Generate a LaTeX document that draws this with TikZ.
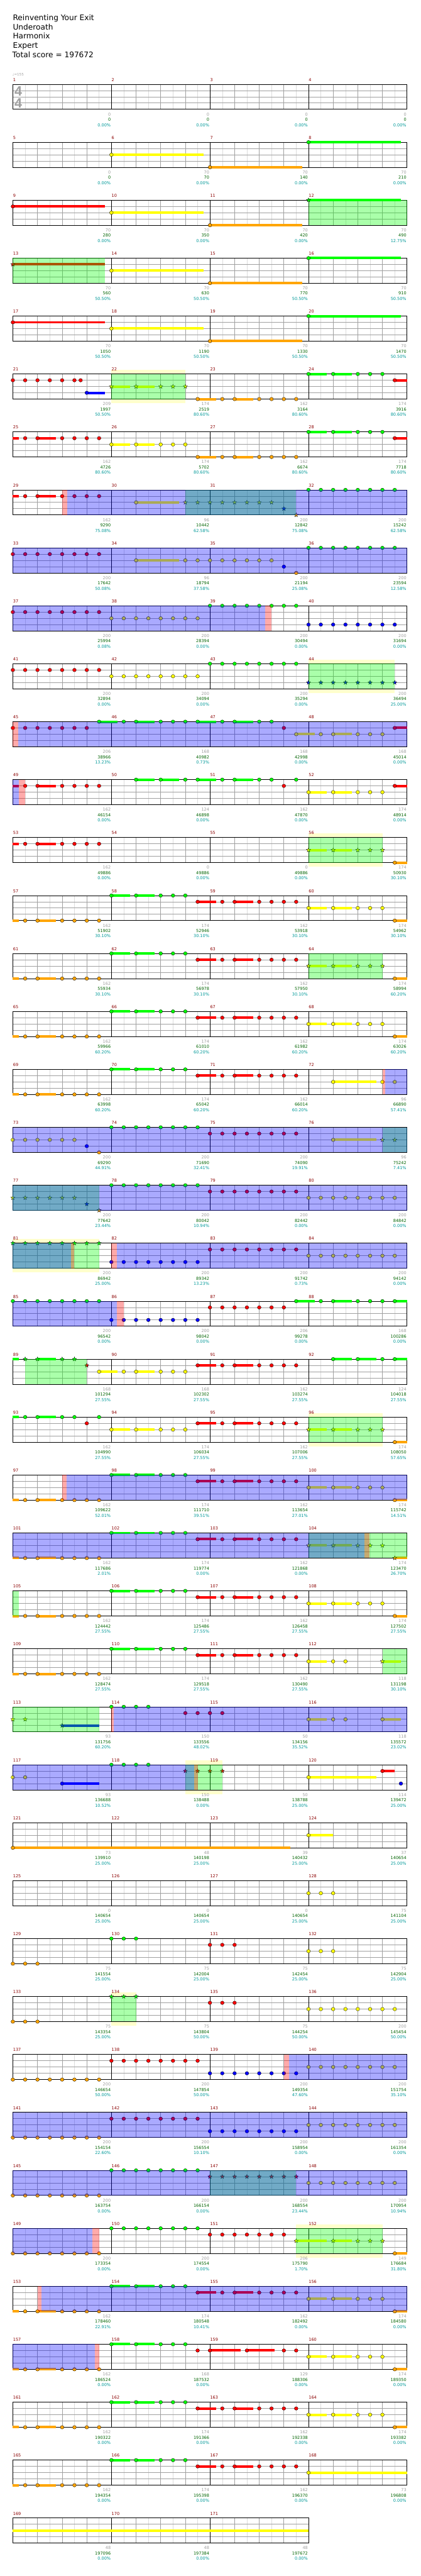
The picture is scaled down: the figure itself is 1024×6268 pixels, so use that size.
\documentclass[tikz,border=0pt]{standalone}
\usepackage{fontspec}
\setmainfont{DejaVu Sans}
\newfontfamily\sigfont{Liberation Sans}
\usepackage{tikz}
\definecolor{lane0}{HTML}{00FF00}
\definecolor{lane1}{HTML}{FF0000}
\definecolor{lane2}{HTML}{FFFF00}
\definecolor{lane3}{HTML}{0000FF}
\definecolor{lane4}{HTML}{FFA500}
\definecolor{barred}{HTML}{8B0000}
\definecolor{gaingray}{HTML}{A0A0A0}
\definecolor{totalgreen}{HTML}{006400}
\definecolor{pctteal}{HTML}{009999}
\definecolor{gridlight}{HTML}{DCDCDC}
\definecolor{gridmid}{HTML}{A0A0A0}
\definecolor{solofill}{HTML}{FFFFCC}
\newcommand\smallfont{\fontsize{10}{12}\selectfont}
\newcommand\titlefont{\fontsize{18.6}{23}\selectfont}
\tikzset{
  chartrow/.style={shift={(31.3pt,{-205pt-141pt*(#1-1)})},x=30pt,y=-15.25pt},
  eighthline/.style={gridlight,line width=0.7pt},
  beatline/.style={gridmid,line width=0.8pt},
  stringline/.style={gridmid,line width=1.2pt},
  barline/.style={black,line width=0.8pt},
  frameline/.style={black,line width=1.3pt},
  barnum/.style={font=\smallfont,text=barred,anchor=base west,inner sep=0pt,yshift=7.4pt,xshift=0.5pt},
  gain/.style={font=\smallfont,text=gaingray,anchor=base east,inner sep=0pt,xshift=-1.5pt,yshift=-15.6pt},
  total/.style={font=\smallfont,text=totalgreen,anchor=base east,inner sep=0pt,xshift=-1.5pt,yshift=-28.6pt},
  pct/.style={font=\smallfont,text=pctteal,anchor=base east,inner sep=0pt,xshift=-1.5pt,yshift=-41.6pt},
  titleline/.style={font=\titlefont,anchor=base west,inner sep=0pt},
  notehead/.style={draw=black,line width=0.5pt},
  overdrive/.style={fill=blue,fill opacity=0.333},
  starpower/.style={fill=green,fill opacity=0.333},
  activation/.style={fill=red,fill opacity=0.333},
}
% chart rows: grid, notes, overlays, scores
\newcommand\chart[2]{%
  \fill[white] (0,0) rectangle (8*#2,4);
  \foreach \k in {1,...,31}{\ifnum\k<\numexpr8*#2\relax
    \ifodd\k\relax \draw[eighthline] (\k,0) -- (\k,4);
    \else \draw[beatline] (\k,0) -- (\k,4); \fi\fi}
  \foreach \y in {1,2,3} \draw[stringline] (0,\y) -- (8*#2,\y);
  \foreach \i in {1,...,4}{\ifnum\i>#2\relax\else
    \pgfmathtruncatemacro\mnum{#1+\i-1}
    \draw[barline] (8*\i-8,0) -- (8*\i-8,4);
    \node[barnum] (bar-\mnum) at (8*\i-8,0) {\mnum};
  \fi}
  \draw[frameline] (0,0) rectangle (8*#2,4);
}
\newcommand\scores[2]{%
  \foreach \g/\s/\p [count=\i] in {#2}{
    \pgfmathtruncatemacro\mnum{#1+\i-1}
    \node[gain] (gain-\mnum) at (8*\i,4) {\g};
    \node[total] (total-\mnum) at (8*\i,4) {\s};
    \node[pct] (pct-\mnum) at (8*\i,4) {\p\%};
  }}
\newcommand\gemnote[2]{\filldraw[notehead,fill=lane#2] (#1,#2) ellipse [x radius=4.5pt,y radius=4.3pt];}
\newcommand\gemnotes[2]{\foreach \e in {#2}{\gemnote{\e}{#1}}}
\newcommand\gemstar[2]{\filldraw[notehead,fill=lane#2] (#1,#2) +(90:5.4pt) -- +(126:2.2pt) -- +(162:5.4pt) -- +(198:2.2pt) -- +(234:5.4pt) -- +(270:2.2pt) -- +(306:5.4pt) -- +(342:2.2pt) -- +(18:5.4pt) -- +(54:2.2pt) -- cycle;}
\newcommand\gemstars[2]{\foreach \e in {#2}{\gemstar{\e}{#1}}}
\newcommand\tail[3]{\fill[lane#3] (#1,#3-0.2) rectangle (#2,#3+0.2);}
\newcommand\hold[3]{\tail{#1}{#2}{#3}\gemnote{#1}{#3}}
\newcommand\holdstar[3]{\tail{#1}{#2}{#3}\gemstar{#1}{#3}}
\newcommand\patA[2]{\tail{#1}{#1+0.5}{#2}\tail{#1+2}{#1+3.5}{#2}\foreach \q in {1,2,4,5,6,7}{\gemnote{#1+\q}{#2}}}
\newcommand\patB[2]{\hold{#1}{#1+1.5}{#2}\hold{#1+2}{#1+3.5}{#2}\foreach \q in {4,5,6}{\gemnote{#1+\q}{#2}}}
\newcommand\patBs[2]{\holdstar{#1}{#1+1.5}{#2}\holdstar{#1+2}{#1+3.5}{#2}\foreach \q in {4,5,6}{\gemstar{#1+\q}{#2}}}
\newcommand\solo[2]{\fill[solofill] (#1,-0.66) rectangle (#2,4.66);}
\newcommand\odrive[2]{\fill[overdrive] (#1,0) rectangle (#2,4);}
\newcommand\spow[2]{\fill[starpower] (#1,0) rectangle (#2,4);}
\newcommand\pinkband[2]{\fill[activation] (#1,0) rectangle (#2,4);}
\begin{document}
\begin{tikzpicture}
  \useasboundingbox (0,0) rectangle (1024pt,-6268pt);
  \fill[white] (0,0) rectangle (1024pt,-6268pt);
  \node[titleline] (title) at (31.3pt,-49.5pt) {Reinventing Your Exit};
  \node[titleline] (artist) at (31.3pt,-72pt) {Underoath};
  \node[titleline] (charter) at (31.3pt,-94.5pt) {Harmonix};
  \node[titleline] (level) at (31.3pt,-117pt) {Expert};
  \node[titleline] (score) at (30pt,-140pt) {Total score = 197672};
  % row 1: bars 1-4
  \begin{scope}[chartrow=1]
    \chart{1}{4}
    \node[font=\fontsize{8.5}{10}\selectfont,text=gaingray,anchor=base west,inner sep=0pt,yshift=20pt,xshift=-1pt] (tempo) at (0,0) {♩=155};
    \node[font=\sigfont\bfseries\fontsize{33}{33}\selectfont,text=gaingray,anchor=base,inner sep=0pt] (sig-top) at (0.44,1.84) {4};
    \node[font=\sigfont\bfseries\fontsize{33}{33}\selectfont,text=gaingray,anchor=base,inner sep=0pt] (sig-bot) at (0.44,3.74) {4};
    \scores{1}{0/0/0.00,0/0/0.00,0/0/0.00,0/0/0.00}
  \end{scope}
  % row 2: bars 5-8
  \begin{scope}[chartrow=2]
    \chart{5}{4}
    \hold{8}{15.5}{2}\hold{16}{23.5}{4}\hold{24}{31.5}{0}
    \scores{5}{0/0/0.00,70/70/0.00,70/140/0.00,70/210/0.00}
  \end{scope}
  % row 3: bars 9-12
  \begin{scope}[chartrow=3]
    \chart{9}{4}
    \hold{0}{7.5}{1}\hold{8}{15.5}{2}\hold{16}{23.5}{4}\holdstar{24}{31.5}{0}
    \spow{24}{32}
    \scores{9}{70/280/0.00,70/350/0.00,70/420/0.00,70/490/12.75}
  \end{scope}
  % row 4: bars 13-16
  \begin{scope}[chartrow=4]
    \chart{13}{4}
    \holdstar{0}{7.5}{1}\hold{8}{15.5}{2}\hold{16}{23.5}{4}\hold{24}{31.5}{0}
    \spow{0}{7.5}
    \scores{13}{70/560/50.50,70/630/50.50,70/770/50.50,70/910/50.50}
  \end{scope}
  % row 5: bars 17-20
  \begin{scope}[chartrow=5]
    \chart{17}{4}
    \hold{0}{7.5}{1}\hold{8}{15.5}{2}\hold{16}{23.5}{4}\hold{24}{31.5}{0}
    \scores{17}{70/1050/50.50,70/1190/50.50,70/1330/50.50,70/1470/50.50}
  \end{scope}
  % row 6: bars 21-24
  \begin{scope}[chartrow=6]
    \solo{8}{14}
    \chart{21}{4}
    \gemnotes{1}{0,1,2,3,4,5,5.5}\hold{6}{7.5}{3}\patBs{8}{2}
    \hold{15}{16}{4}\patA{16}{4}\patB{24}{0}\hold{31}{32}{1}
    \spow{8}{14}
    \scores{21}{209/1997/50.50,174/2519/80.60,162/3164/80.60,174/3916/80.60}
  \end{scope}
  % row 7: bars 25-28
  \begin{scope}[chartrow=7]
    \chart{25}{4}
    \patA{0}{1}\patB{8}{2}\hold{15}{16}{4}\patA{16}{4}\patB{24}{0}\hold{31}{32}{1}
    \scores{25}{162/4726/80.60,174/5702/80.60,162/6674/80.60,174/7718/80.60}
  \end{scope}
  % row 8: bars 29-32
  \begin{scope}[chartrow=8]
    \chart{29}{4}
    \patA{0}{1}\hold{10}{13.5}{2}\gemstars{2}{14,...,21}\gemstar{22}{3}\gemstar{23}{4}
    \gemnotes{0}{24,...,31}
    \spow{14}{23}\odrive{4.4}{32}\pinkband{4}{4.4}
    \scores{29}{162/9290/75.08,96/10442/62.58,200/12842/75.08,200/15242/62.58}
  \end{scope}
  % row 9: bars 33-36
  \begin{scope}[chartrow=9]
    \chart{33}{4}
    \gemnotes{1}{0,...,7}\hold{10}{13.5}{2}\gemnotes{2}{14,...,21}\gemnote{22}{3}\gemnote{23}{4}
    \gemnotes{0}{24,...,31}
    \odrive{0}{32}
    \scores{33}{200/17642/50.08,96/18794/37.58,200/21194/25.08,200/23594/12.58}
  \end{scope}
  % row 10: bars 37-40
  \begin{scope}[chartrow=10]
    \chart{37}{4}
    \gemnotes{1}{0,...,7}\gemnotes{2}{8,...,15}\gemnotes{0}{16,...,23}\gemnotes{3}{24,...,31}
    \odrive{0}{20.46}\pinkband{20.46}{21}
    \scores{37}{200/25994/0.08,200/28394/0.00,200/30494/0.00,200/31694/0.00}
  \end{scope}
  % row 11: bars 41-44
  \begin{scope}[chartrow=11]
    \solo{24}{31}
    \chart{41}{4}
    \gemnotes{1}{0,...,7}\gemnotes{2}{8,...,15}\gemnotes{0}{16,...,23}\gemstars{3}{24,...,31}
    \spow{24}{31}
    \scores{41}{200/32894/0.00,200/34094/0.00,200/35294/0.00,200/36494/25.00}
  \end{scope}
  % row 12: bars 45-48
  \begin{scope}[chartrow=12]
    \chart{45}{4}
    \gemnotes{1}{0,...,6}
    \hold{7}{8.5}{0}\hold{10}{11.5}{0}\hold{15}{16.5}{0}\hold{18}{19.5}{0}\gemnotes{0}{9,12,13,14,17,20,21}
    \gemnote{22}{1}\hold{23}{24.5}{2}\hold{26}{27.5}{2}\gemnotes{2}{25,28,29,30}\hold{31}{32}{1}
    \pinkband{0}{0.42}\odrive{0.42}{32}
    \scores{45}{206/38966/13.23,168/40982/0.73,168/42998/0.00,168/45014/0.00}
  \end{scope}
  % row 13: bars 49-52
  \begin{scope}[chartrow=13]
    \chart{49}{4}
    \patA{0}{1}
    \hold{10}{11.5}{0}\hold{12}{13.5}{0}\hold{15}{16.5}{0}\hold{18}{19.5}{0}\gemnotes{0}{14,17,20,21,23}
    \gemnote{22}{1}\patB{24}{2}\hold{31}{32}{1}
    \odrive{0}{0.48}\pinkband{0.48}{1}
    \scores{49}{162/46154/0.00,124/46898/0.00,162/47870/0.00,174/48914/0.00}
  \end{scope}
  % row 14: bars 53-56
  \begin{scope}[chartrow=14]
    \solo{24}{30}
    \chart{53}{4}
    \patA{0}{1}\patBs{24}{2}\hold{31}{32}{4}
    \spow{24}{30}
    \scores{53}{162/49886/0.00,0/49886/0.00,0/49886/0.00,174/50930/30.10}
  \end{scope}
  % row 15: bars 57-60
  \begin{scope}[chartrow=15]
    \chart{57}{4}
    \patA{0}{4}\patB{8}{0}\hold{15}{16}{1}\patA{16}{1}\patB{24}{2}\hold{31}{32}{4}
    \scores{57}{162/51902/30.10,174/52946/30.10,162/53918/30.10,174/54962/30.10}
  \end{scope}
  % row 16: bars 61-64
  \begin{scope}[chartrow=16]
    \chart{61}{4}
    \patA{0}{4}\patB{8}{0}\hold{15}{16}{1}\patA{16}{1}\patBs{24}{2}\hold{31}{32}{4}
    \spow{24}{30}
    \scores{61}{162/55934/30.10,174/56978/30.10,162/57950/30.10,174/58994/60.20}
  \end{scope}
  % row 17: bars 65-68
  \begin{scope}[chartrow=17]
    \chart{65}{4}
    \patA{0}{4}\patB{8}{0}\hold{15}{16}{1}\patA{16}{1}\patB{24}{2}\hold{31}{32}{4}
    \scores{65}{162/59966/60.20,174/61010/60.20,162/61982/60.20,174/63026/60.20}
  \end{scope}
  % row 18: bars 69-72
  \begin{scope}[chartrow=18]
    \chart{69}{4}
    \patA{0}{4}\patB{8}{0}\hold{15}{16}{1}\patA{16}{1}\hold{26}{29.5}{2}\gemnotes{2}{30,31}
    \pinkband{30}{30.2}\odrive{30.2}{32}
    \scores{69}{162/63998/60.20,174/65042/60.20,162/66014/60.20,96/66890/57.41}
  \end{scope}
  % row 19: bars 73-76
  \begin{scope}[chartrow=19]
    \chart{73}{4}
    \gemnotes{2}{0,...,5}\gemnote{6}{3}\gemnote{7}{4}\gemnotes{0}{8,...,15}\gemnotes{1}{16,...,23}
    \hold{26}{29.5}{2}\gemstars{2}{30,31}
    \spow{30}{32}\odrive{0}{32}
    \scores{73}{200/69290/44.91,200/71690/32.41,200/74090/19.91,96/75242/7.41}
  \end{scope}
  % row 20: bars 77-80
  \begin{scope}[chartrow=20]
    \chart{77}{4}
    \gemstars{2}{0,...,5}\gemstar{6}{3}\gemstar{7}{4}\gemnotes{0}{8,...,15}\gemnotes{1}{16,...,23}
    \gemnotes{2}{24,...,31}
    \spow{0}{7}\odrive{0}{32}
    \scores{77}{200/77642/23.44,200/80042/10.94,200/82442/0.00,200/84842/0.00}
  \end{scope}
  % row 21: bars 81-84
  \begin{scope}[chartrow=21]
    \solo{0}{7}
    \chart{81}{4}
    \gemstars{0}{0,...,7}\gemnotes{3}{8,...,15}\gemnotes{1}{16,...,23}\gemnotes{2}{24,...,31}
    \spow{0}{7}\odrive{0}{4.72}\odrive{8.42}{32}\pinkband{4.72}{5}\pinkband{8}{8.42}
    \scores{81}{200/86942/25.00,200/89342/13.23,200/91742/0.73,200/94142/0.00}
  \end{scope}
  % row 22: bars 85-88
  \begin{scope}[chartrow=22]
    \chart{85}{4}
    \gemnotes{0}{0,...,7}\gemnotes{3}{8,...,15}\gemnotes{1}{16,...,22}
    \hold{23}{24.5}{0}\hold{26}{27.5}{0}\gemnotes{0}{25,28,29,30}\hold{31}{32}{0}
    \odrive{0}{8.45}\pinkband{8.45}{9}
    \scores{85}{200/96542/0.00,200/98042/0.00,206/99278/0.00,168/100286/0.00}
  \end{scope}
  % row 23: bars 89-92
  \begin{scope}[chartrow=23]
    \chart{89}{4}
    \tail{0}{0.5}{0}\holdstar{2}{3.5}{0}\gemstars{0}{1,4,5}\gemstar{6}{1}
    \hold{7}{8.5}{2}\hold{10}{11.5}{2}\gemnotes{2}{9,12,13,14}\hold{15}{16}{1}\patA{16}{1}
    \hold{26}{27.5}{0}\hold{28}{29.5}{0}\gemnote{30}{0}\hold{31}{32}{0}
    \spow{1}{6}
    \scores{89}{168/101294/27.55,168/102302/27.55,162/103274/27.55,124/104018/27.55}
  \end{scope}
  % row 24: bars 93-96
  \begin{scope}[chartrow=24]
    \solo{24}{30}
    \chart{93}{4}
    \tail{0}{0.5}{0}\hold{2}{3.5}{0}\gemnotes{0}{1,4,5,7}\gemnote{6}{1}
    \patB{8}{2}\hold{15}{16}{1}\patA{16}{1}\patBs{24}{2}\hold{31}{32}{4}
    \spow{24}{30}
    \scores{93}{162/104990/27.55,174/106034/27.55,162/107006/27.55,174/108050/57.65}
  \end{scope}
  % row 25: bars 97-100
  \begin{scope}[chartrow=25]
    \chart{97}{4}
    \patA{0}{4}\patB{8}{0}\hold{15}{16}{1}\patA{16}{1}\patB{24}{2}\hold{31}{32}{4}
    \odrive{4.35}{32}\pinkband{4}{4.35}
    \scores{97}{162/109622/52.01,174/111710/39.51,162/113654/27.01,174/115742/14.51}
  \end{scope}
  % row 26: bars 101-104
  \begin{scope}[chartrow=26]
    \chart{101}{4}
    \patA{0}{4}\patB{8}{0}\hold{15}{16}{1}\patA{16}{1}\patBs{24}{2}\holdstar{31}{32}{4}
    \spow{24}{32}\odrive{0}{28.52}\pinkband{28.52}{28.95}
    \scores{101}{162/117686/2.01,174/119774/0.00,162/121868/0.00,174/123470/26.70}
  \end{scope}
  % row 27: bars 105-108
  \begin{scope}[chartrow=27]
    \chart{105}{4}
    \patA{0}{4}\patB{8}{0}\hold{15}{16}{1}\patA{16}{1}\patB{24}{2}\hold{31}{32}{4}
    \spow{0}{0.48}
    \scores{105}{162/124442/27.55,174/125486/27.55,162/126458/27.55,174/127502/27.55}
  \end{scope}
  % row 28: bars 109-112
  \begin{scope}[chartrow=28]
    \chart{109}{4}
    \patA{0}{4}\patB{8}{0}\hold{15}{16}{1}\patA{16}{1}
    \hold{24}{25.5}{2}\gemnotes{2}{26,27}\holdstar{30}{31.5}{2}
    \spow{30}{32}
    \scores{109}{162/128474/27.55,174/129518/27.55,162/130490/27.55,118/131198/30.10}
  \end{scope}
  % row 29: bars 113-116
  \begin{scope}[chartrow=29]
    \chart{113}{4}
    \gemstars{2}{0,1}\holdstar{4}{7}{3}\gemnotes{0}{8,9,10,11}\gemnotes{1}{14,15,16,17}
    \hold{24}{25.5}{2}\gemnotes{2}{26,27}\hold{30}{31.5}{2}
    \spow{0}{7}\odrive{8.2}{32}\pinkband{8}{8.2}
    \scores{113}{93/131756/60.20,150/133556/48.02,50/134156/35.52,118/135572/23.02}
  \end{scope}
  % row 30: bars 117-120
  \begin{scope}[chartrow=30]
    \solo{14}{17}
    \chart{117}{4}
    \gemnotes{2}{0,1}\hold{4}{7}{3}\gemnotes{0}{8,9,10,11}\gemstars{1}{14,15,16,17}
    \hold{24}{29.5}{2}\hold{30}{31}{1}\gemnote{31.5}{3}
    \spow{14}{17}\odrive{0}{14.7}\pinkband{14.7}{15}
    \scores{117}{93/136688/10.52,150/138488/0.00,50/138788/25.00,114/139472/25.00}
  \end{scope}
  % row 31: bars 121-124
  \begin{scope}[chartrow=31]
    \chart{121}{4}
    \hold{0}{22.5}{4}\hold{24}{26}{2}
    \scores{121}{73/139910/25.00,48/140198/25.00,39/140432/25.00,37/140654/25.00}
  \end{scope}
  % row 32: bars 125-128
  \begin{scope}[chartrow=32]
    \chart{125}{4}
    \gemnotes{2}{24,25,26}
    \scores{125}{0/140654/25.00,0/140654/25.00,0/140654/25.00,75/141104/25.00}
  \end{scope}
  % row 33: bars 129-132
  \begin{scope}[chartrow=33]
    \chart{129}{4}
    \gemnotes{4}{0,1,2}\gemnotes{0}{8,9,10}\gemnotes{1}{16,17,18}\gemnotes{2}{24,25,26}
    \scores{129}{75/141554/25.00,75/142004/25.00,75/142454/25.00,75/142904/25.00}
  \end{scope}
  % row 34: bars 133-136
  \begin{scope}[chartrow=34]
    \solo{8}{10}
    \chart{133}{4}
    \gemnotes{4}{0,1,2}\gemstars{0}{8,9,10}\gemnotes{1}{16,17,18}\gemnotes{2}{24,...,31}
    \spow{8}{10}
    \scores{133}{75/143354/25.00,75/143804/50.00,75/144254/50.00,200/145454/50.00}
  \end{scope}
  % row 35: bars 137-140
  \begin{scope}[chartrow=35]
    \chart{137}{4}
    \gemnotes{4}{0,...,7}\gemnotes{1}{8,...,15}\gemnotes{3}{16,...,23}\gemnotes{2}{24,...,31}
    \odrive{22.4}{32}\pinkband{22}{22.4}
    \scores{137}{200/146654/50.00,200/147854/50.00,200/149354/47.60,200/151754/35.10}
  \end{scope}
  % row 36: bars 141-144
  \begin{scope}[chartrow=36]
    \chart{141}{4}
    \gemnotes{4}{0,...,7}\gemnotes{1}{8,...,15}\gemnotes{3}{16,...,23}\gemnotes{2}{24,...,31}
    \odrive{0}{32}
    \scores{141}{200/154154/22.60,200/156554/10.10,200/158954/0.00,200/161354/0.00}
  \end{scope}
  % row 37: bars 145-148
  \begin{scope}[chartrow=37]
    \chart{145}{4}
    \gemnotes{4}{0,...,7}\gemnotes{0}{8,...,15}\gemstars{1}{16,...,23}\gemnotes{2}{24,...,31}
    \spow{16}{23}\odrive{0}{32}
    \scores{145}{200/163754/0.00,200/166154/0.00,200/168554/23.44,200/170954/10.94}
  \end{scope}
  % row 38: bars 149-152
  \begin{scope}[chartrow=38]
    \solo{23}{30}
    \chart{149}{4}
    \gemnotes{4}{0,...,7}\gemnotes{0}{8,...,15}\gemnotes{1}{16,...,22}
    \holdstar{23}{25.5}{2}\holdstar{26}{27.5}{2}\gemstars{2}{28,29,30}\hold{31}{32}{4}
    \spow{23}{30}\odrive{0}{6.46}\pinkband{6.46}{7}
    \scores{149}{200/173354/0.00,200/174554/0.00,206/175790/1.70,149/176684/31.80}
  \end{scope}
  % row 39: bars 153-156
  \begin{scope}[chartrow=39]
    \chart{153}{4}
    \patA{0}{4}\patB{8}{0}\hold{15}{16}{1}\patA{16}{1}\patB{24}{2}\hold{31}{32}{4}
    \odrive{2.3}{32}\pinkband{2}{2.3}
    \scores{153}{162/178460/22.91,174/180548/10.41,162/182492/0.00,174/184580/0.00}
  \end{scope}
  % row 40: bars 157-160
  \begin{scope}[chartrow=40]
    \chart{157}{4}
    \patA{0}{4}\patB{8}{0}\gemnote{15}{1}\hold{16}{18.5}{1}\hold{19}{21.25}{1}\gemnotes{1}{22,23}
    \patB{24}{2}\hold{31}{32}{4}
    \odrive{0}{6.64}\pinkband{6.64}{7}
    \scores{157}{162/186524/0.00,168/187532/0.00,129/188306/0.00,174/189350/0.00}
  \end{scope}
  % row 41: bars 161-164
  \begin{scope}[chartrow=41]
    \chart{161}{4}
    \patA{0}{4}\patB{8}{0}\hold{15}{16}{1}\patA{16}{1}\patB{24}{2}\hold{31}{32}{4}
    \scores{161}{162/190322/0.00,174/191366/0.00,162/192338/0.00,174/193382/0.00}
  \end{scope}
  % row 42: bars 165-168
  \begin{scope}[chartrow=42]
    \chart{165}{4}
    \patA{0}{4}\patB{8}{0}\hold{15}{16}{1}\patA{16}{1}\hold{24}{32}{2}
    \scores{165}{162/194354/0.00,174/195398/0.00,162/196370/0.00,73/196808/0.00}
  \end{scope}
  % row 43: bars 169-171
  \begin{scope}[chartrow=43]
    \chart{169}{3}
    \tail{0}{24}{2}
    \scores{169}{48/197096/0.00,48/197384/0.00,48/197672/0.00}
  \end{scope}
\end{tikzpicture}
\end{document}
